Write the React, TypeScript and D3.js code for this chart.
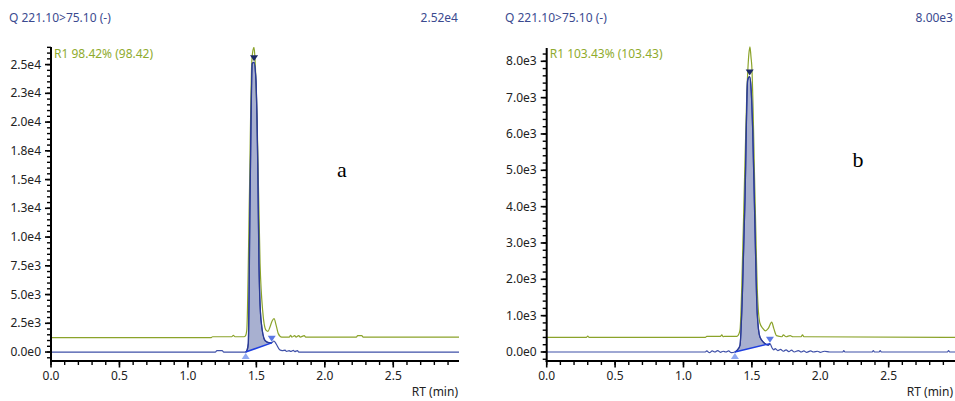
import React from "react";
import * as d3 from "d3";

// ---------- DATA ----------
const channelTitle = "Q 221.10>75.10 (-)";
const panelLetters = ["a", "b"];
const maxIntensityLabels = ["2.52e4", "8.00e3"];
const peakLabels = ["R1 98.42% (98.42)", "R1 103.43% (103.43)"];

// [RT (min), intensity]
const leftBlue: [number, number][] = [
  [0, 0], [1.2, 0], [1.212, 120], [1.25, 120], [1.262, 0], [1.422, 0], [1.432, 150],
  [1.441, 730], [1.454, 13500], [1.47, 25100], [1.483, 25200], [1.497, 23600],
  [1.51, 16400], [1.519, 7700], [1.534, 2760], [1.563, 1000], [1.59, 820], [1.612, 800],
  [1.628, 960], [1.645, 700], [1.67, 200], [1.69, 120], [1.71, 160], [1.72, 60],
  [1.74, 130], [1.75, 50], [1.77, 140], [1.78, 40], [1.8, 120], [1.81, 0], [2.98, 0],
];
const leftGreen: [number, number][] = [
  [0, 1250], [1.17, 1250], [1.18, 1330], [1.32, 1330], [1.332, 1460], [1.344, 1330],
  [1.41, 1330], [1.42, 1400], [1.43, 1900], [1.449, 13500], [1.466, 25100],
  [1.476, 26300], [1.483, 26500], [1.49, 25500], [1.507, 19300], [1.527, 7700],
  [1.546, 3600], [1.57, 1900], [1.585, 1800], [1.6, 2200], [1.615, 2700], [1.629, 2900],
  [1.645, 2300], [1.66, 1600], [1.685, 1300], [1.74, 1300], [1.75, 1450], [1.76, 1300],
  [1.78, 1420], [1.79, 1300], [1.81, 1430], [1.82, 1300], [1.85, 1420], [1.86, 1300],
  [2.23, 1300], [2.24, 1430], [2.27, 1430], [2.28, 1300], [2.98, 1300],
];
const rightBlue: [number, number][] = [
  [0, 0], [1.16, 0], [1.17, 30], [1.19, -20], [1.21, 30], [1.23, 0], [1.25, 40],
  [1.27, -10], [1.29, 20], [1.31, 0], [1.33, 30], [1.35, -20], [1.376, 0], [1.395, 60],
  [1.413, 180], [1.43, 1500], [1.45, 4270], [1.469, 7480], [1.484, 7580], [1.495, 7200],
  [1.506, 6110], [1.523, 3350], [1.539, 1060], [1.559, 410], [1.59, 250], [1.62, 190],
  [1.632, 230], [1.648, 110], [1.66, 60], [1.67, 90], [1.69, 40], [1.71, 70], [1.73, 20],
  [1.75, 60], [1.77, 10], [1.79, 50], [1.81, 0], [1.84, 40], [1.86, 0], [1.88, 30],
  [1.9, -10], [1.93, 30], [1.95, 0], [1.98, 20], [2.0, -10], [2.03, 20], [2.07, 0],
  [2.165, 0], [2.172, 40], [2.18, 0], [2.38, 0], [2.388, 40], [2.396, 0], [2.43, 0],
  [2.438, 40], [2.446, 0], [2.93, 0], [2.938, 40], [2.946, 0], [2.985, 0],
];
const rightGreen: [number, number][] = [
  [0, 400], [0.29, 400], [0.3, 440], [0.31, 400], [1.16, 400], [1.17, 430], [1.27, 430],
  [1.28, 470], [1.29, 420], [1.3, 430], [1.39, 430], [1.4, 460], [1.413, 600],
  [1.437, 3350], [1.462, 7000], [1.478, 8200], [1.486, 8400], [1.494, 8100],
  [1.499, 7900], [1.523, 4270], [1.542, 1500], [1.559, 790], [1.58, 650], [1.6, 580],
  [1.62, 650], [1.645, 820], [1.66, 650], [1.68, 450], [1.72, 420], [1.73, 470],
  [1.75, 420], [1.78, 450], [1.8, 420], [1.86, 420], [1.87, 470], [1.88, 420], [2.985, 400],
];

// integration: [start RT, end RT, end baseline value], apex RT
const leftIntegration = [1.422, 1.612, 800, 1.483];
const rightIntegration = [1.376, 1.632, 230, 1.484];

const leftYTicks = [0, 2500, 5000, 7500, 10000, 12500, 15000, 17500, 20000, 22500, 25000];
const leftYLabels = ["0.0e0", "2.5e3", "5.0e3", "7.5e3", "1.0e4", "1.3e4", "1.5e4", "1.8e4", "2.0e4", "2.3e4", "2.5e4"];
const rightYTicks = [0, 1000, 2000, 3000, 4000, 5000, 6000, 7000, 8000];
const rightYLabels = ["0.0e0", "1.0e3", "2.0e3", "3.0e3", "4.0e3", "5.0e3", "6.0e3", "7.0e3", "8.0e3"];
const xTicks = [0, 0.5, 1.0, 1.5, 2.0, 2.5];
const xLabels = ["0.0", "0.5", "1.0", "1.5", "2.0", "2.5"];
const xAxisTitle = "RT (min)";

// ---------- STYLE ----------
const FONT = "'Noto Sans', 'Open Sans', sans-serif";
const C_TITLE = "#3b4a8f";
const C_GREEN = "#8ba32a";
const C_GREEN_TXT = "#8fab2e";
const C_BLUE = "#3f50a8";
const C_FILL = "#a8b0d0";
const C_BASE = "#1f3fe0";

type PanelProps = {
  idx: number;
  x0: number; x1: number; yTop: number; yBot: number;
  xMax: number; yDomain: [number, number];
  blue: [number, number][]; green: [number, number][];
  integ: number[];
  yTicks: number[]; yLabels: string[]; yMinorStep: number;
  titleX: number; rightX: number;
  letterPos: [number, number];
};

function interp(data: [number, number][], t: number) {
  for (let i = 1; i < data.length; i++) {
    if (data[i][0] >= t) {
      const [ta, va] = data[i - 1];
      const [tb, vb] = data[i];
      return va + ((vb - va) * (t - ta)) / (tb - ta || 1);
    }
  }
  return data[data.length - 1][1];
}

function Panel(p: PanelProps) {
  const xs = d3.scaleLinear().domain([0, p.xMax]).range([p.x0, p.x1]);
  const ys = d3.scaleLinear().domain(p.yDomain).range([p.yBot, p.yTop]);
  const line = d3.line<[number, number]>().x((d) => xs(d[0])).y((d) => ys(d[1])).curve(d3.curveMonotoneX);

  const [tS, tE, vE, tA] = p.integ;
  const vS = interp(p.blue, tS);
  const baseAt = (t: number) => vS + ((vE - vS) * (t - tS)) / (tE - tS);
  const inner = p.blue.filter((d) => d[0] > tS && d[0] < tE);
  const fillPts: [number, number, number][] = [
    [tS, vS, vS],
    ...inner.map((d) => [d[0], d[1], baseAt(d[0])] as [number, number, number]),
    [tE, vE, vE],
  ];
  const area = d3.area<[number, number, number]>()
    .x((d) => xs(d[0])).y1((d) => ys(d[1])).y0((d) => ys(d[2]))
    .curve(d3.curveMonotoneX);
  const peakLine = d3.line<[number, number, number]>().x((d) => xs(d[0])).y((d) => ys(d[1])).curve(d3.curveMonotoneX);
  const vA = d3.max(p.blue, (d) => d[1]) as number;

  const minorY = d3.range(Math.ceil(p.yDomain[0] / p.yMinorStep) * p.yMinorStep, p.yDomain[1], p.yMinorStep);
  const minorX = d3.range(0, p.xMax + 1e-9, 0.1);
  const clipId = `clip${p.idx}`;

  const tri = (cx: number, cy: number, dir: number) => {
    // tip at (cx,cy); dir=1 body above (points down), dir=-1 body below (points up)
    const h = 6, w = 4;
    return `M${cx},${cy} L${cx - w},${cy - dir * h} L${cx + w},${cy - dir * h} Z`;
  };

  return (
    <g>
      <defs>
        <clipPath id={clipId}>
          <rect x={p.x0} y={p.yTop - 2} width={p.x1 - p.x0} height={p.yBot - p.yTop + 2} />
        </clipPath>
      </defs>
      <text x={p.titleX} y={22} fontFamily={FONT} fontSize={12} fill={C_TITLE}>{channelTitle}</text>
      <text x={p.rightX} y={22} fontFamily={FONT} fontSize={12} fill={C_TITLE} textAnchor="end">
        {maxIntensityLabels[p.idx]}
      </text>

      <g clipPath={`url(#${clipId})`}>
        <path d={area(fillPts) || ""} fill={C_FILL} stroke="none" />
        <path d={line(p.green) || ""} fill="none" stroke={C_GREEN} strokeWidth={1.2} />
        <path d={line(p.blue) || ""} fill="none" stroke={C_BLUE} strokeWidth={1.2} />
        <path d={peakLine(fillPts) || ""} fill="none" stroke="#2a3a95" strokeWidth={1.3} />
        <line x1={xs(tS)} y1={ys(vS)} x2={xs(tE)} y2={ys(vE)} stroke={C_BASE} strokeWidth={1.5} />
      </g>
      <path d={tri(xs(tS), ys(vS) + 1, -1)} fill="#8fa8f2" />
      <path d={tri(xs(tE), ys(vE) - 1, 1)} fill="#5b78e4" />
      <path d={tri(xs(tA), ys(vA) - 1, 1)} fill="#1c2965" />

      <text x={p.x0 + 3} y={58} fontFamily={FONT} fontSize={12} fill={C_GREEN_TXT}>{peakLabels[p.idx]}</text>

      {/* y axis */}
      <line x1={p.x0} y1={p.yTop} x2={p.x0} y2={p.yBot + 1} stroke="#000" strokeWidth={2} />
      {minorY.map((v, i) => (
        <line key={"my" + i} x1={p.x0 - 4} x2={p.x0} y1={ys(v)} y2={ys(v)} stroke="#000" strokeWidth={1.4} />
      ))}
      {p.yTicks.map((v, i) => (
        <g key={"y" + i}>
          <line x1={p.x0 - 6} x2={p.x0} y1={ys(v)} y2={ys(v)} stroke="#000" strokeWidth={1.6} />
          <text x={p.x0 - 10} y={ys(v) + 4} fontFamily={FONT} fontSize={12} fill="#222" textAnchor="end">
            {p.yLabels[i]}
          </text>
        </g>
      ))}

      {/* x axis */}
      <line x1={p.x0 - 1} y1={p.yBot} x2={p.x1} y2={p.yBot} stroke="#000" strokeWidth={2} />
      {minorX.map((v, i) => (
        <line key={"mx" + i} x1={xs(v)} x2={xs(v)} y1={p.yBot} y2={p.yBot + 4} stroke="#000" strokeWidth={1.4} />
      ))}
      {xTicks.map((v, i) => (
        <g key={"x" + i}>
          <line x1={xs(v)} x2={xs(v)} y1={p.yBot} y2={p.yBot + 6.5} stroke="#000" strokeWidth={1.6} />
          <text x={xs(v)} y={380} fontFamily={FONT} fontSize={12} fill="#222" textAnchor="middle">{xLabels[i]}</text>
        </g>
      ))}
      <text x={p.rightX} y={396} fontFamily={FONT} fontSize={12} fill="#222" textAnchor="end">{xAxisTitle}</text>

      <text x={p.letterPos[0]} y={p.letterPos[1]} fontFamily="'Liberation Serif', 'DejaVu Serif', serif" fontSize={22} fill="#000" textAnchor="middle">
        {panelLetters[p.idx]}
      </text>
    </g>
  );
}

export default function App() {
  return (
    <svg width={955} height={401} style={{ position: "absolute", left: 0, top: 0, background: "#fff" }}>
      <rect width={955} height={401} fill="#fff" />
      <Panel idx={0} x0={51} x1={459} yTop={47} yBot={361} xMax={2.98} yDomain={[-780, 26530]}
        blue={leftBlue} green={leftGreen} integ={leftIntegration}
        yTicks={leftYTicks} yLabels={leftYLabels} yMinorStep={500}
        titleX={9} rightX={458} letterPos={[342, 177]} />
      <Panel idx={1} x0={546.7} x1={955} yTop={48} yBot={361} xMax={2.985} yDomain={[-248, 8366]}
        blue={rightBlue} green={rightGreen} integ={rightIntegration}
        yTicks={rightYTicks} yLabels={rightYLabels} yMinorStep={200}
        titleX={505} rightX={953} letterPos={[858, 167]} />
    </svg>
  );
}
